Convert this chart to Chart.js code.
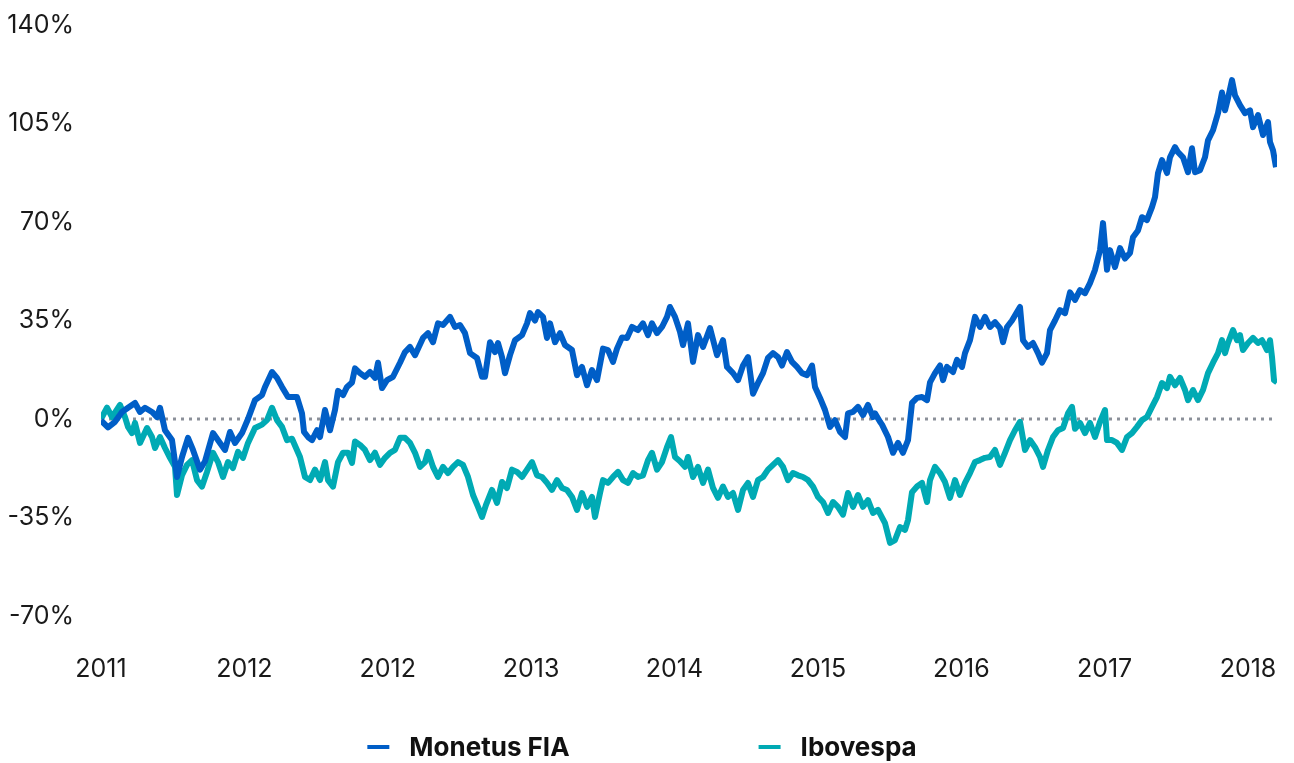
<!DOCTYPE html>
<html>
<head>
<meta charset="utf-8">
<script src="https://cdn.jsdelivr.net/npm/chart.js@4.4.1/dist/chart.umd.min.js"></script>
<style>
  html, body { margin: 0; padding: 0; background: #fff; }
  #wrap { width: 1294px; height: 763px; }
</style>
</head>
<body>
<div id="wrap"><canvas id="grafico"></canvas></div>
<script>
// eixo x: pregões (escala), ticks de ano
const anos = ["2011", "2012", "2012", "2013", "2014", "2015", "2016", "2017", "2018"];
const posAnos = [0, 143.4, 286.8, 430.1, 573.5, 716.9, 860.3, 1003.6, 1147];

// rentabilidade acumulada (%)
const diasMonetus = [0,7,14,21,27,34,39,44,51,56,59,64,71,76,81,87,92,99,104,112,119,124,129,134,141,147,154,161,164,171,176,181,187,196,201,203,207,211,216,219,224,229,234,237,242,246,251,254,259,264,269,274,277,281,286,292,299,304,309,314,317,322,327,332,337,342,349,354,359,364,369,376,381,384,389,394,397,401,404,409,414,421,426,429,434,437,442,446,449,454,459,464,471,476,481,486,491,496,502,507,512,516,521,526,531,537,542,547,551,556,561,566,569,574,579,582,587,592,597,602,609,616,622,626,632,637,642,647,652,657,662,667,672,677,681,686,691,696,701,706,711,714,719,724,729,734,739,744,747,752,757,762,767,772,774,779,781,787,792,797,802,807,811,816,821,826,829,834,839,842,846,852,856,861,864,869,874,879,884,889,894,899,902,906,911,916,919,922,927,932,937,941,946,949,954,959,964,969,974,979,984,989,994,999,1002,1006,1009,1014,1019,1024,1029,1032,1037,1041,1046,1051,1054,1057,1061,1066,1069,1074,1077,1082,1087,1091,1094,1099,1104,1107,1112,1117,1121,1124,1127,1131,1134,1139,1144,1149,1152,1157,1162,1167,1169,1172,1175];
const monetus = [-0.5,-3,-1,2.5,4,5.7,2.5,4,2.5,0.7,4,-4,-7.5,-20.6,-13.5,-6.7,-11,-18,-15,-5,-8.5,-11,-4.6,-8.5,-5,0,6.7,8.5,11.4,16.7,14.6,11.4,7.8,7.8,2,-4.6,-6.4,-7.5,-4,-6.4,3.2,-4,3.2,10,8.5,11.4,13,18,16.3,15,16.7,14.6,20,11,13.8,15,20,23.8,25.6,22.7,25,28.8,30.5,27.3,34,33.4,36.3,32.7,33.4,30.5,23.4,21.7,15,15,27.3,23.8,27,22,16.3,22.7,28,29.8,34,37.6,35,38,36.3,28.8,34,27.3,30.5,26.3,24.5,15.6,18.5,12,17.4,13.8,25,24.5,20.3,25,29,28.8,32.7,31.6,34,29.8,34,30.5,32.7,36.3,39.8,36.3,31,26.3,34,20.3,29.8,25.6,32.3,22.7,28,18.5,16.3,13.8,19,22,9,12.8,16.3,21.7,23.4,22,19,23.8,20.3,18.5,16.3,15.6,19,11.4,7.5,3.2,-2.8,-0.4,-4.6,-6.4,2,2.5,4.3,1.4,5,0.7,2,-1,-2,-6.4,-12,-8.5,-12,-7.5,5.7,7.5,7.8,6.7,13,16.3,19,13.8,18.5,16.7,21,18.5,23.4,28,36.3,32.7,36.3,32.7,34.4,32.3,27.3,32.7,35,38,39.8,28,25.6,27,23.4,20,23.4,31.6,35,38.7,37.6,45,42.3,45.8,44.7,48.3,53,60,69.6,53,60,54,60.7,57,59,64.6,67,71.7,70.7,75.3,78.8,87.4,92,87.4,93,96.6,94.8,93,87.7,96.2,87.7,88.4,93,99,102.6,108.7,116,109.7,114,120.4,115,111.5,108.7,109.7,103.7,108,100.9,105.5,98.4,95.5,89.5];

const diasIbov = [0,6,11,19,24,27,31,34,39,46,51,54,59,64,69,74,76,81,86,91,96,101,106,112,117,122,127,132,137,142,147,154,161,166,171,176,181,186,191,199,204,209,214,219,224,227,232,237,242,247,251,254,259,264,269,274,279,284,289,294,299,304,309,314,319,324,327,332,337,342,347,352,357,362,367,372,377,381,385,391,396,401,406,411,416,421,426,431,436,441,446,451,456,461,466,471,476,481,486,491,494,499,502,507,512,517,522,527,532,537,542,547,551,556,561,566,570,574,579,584,587,592,597,602,607,612,617,622,627,632,637,642,647,652,657,662,667,672,677,682,687,692,697,702,707,712,717,722,727,732,737,742,747,752,757,762,767,772,777,784,789,794,799,804,807,811,816,821,826,829,834,839,844,849,854,859,864,869,874,879,884,889,894,899,904,909,914,919,924,929,934,939,942,947,952,957,962,967,971,974,979,984,989,994,999,1004,1006,1011,1016,1021,1026,1031,1036,1041,1046,1051,1056,1061,1066,1069,1074,1079,1084,1087,1092,1097,1102,1107,1112,1117,1121,1124,1127,1132,1136,1139,1142,1147,1152,1157,1161,1166,1169,1171,1173,1176];
const ibovespa = [0,4,0.7,5,0.7,-2.8,-5,-1.4,-8.5,-3.2,-6.4,-10.3,-6.4,-10.3,-13.8,-17,-27,-20,-16.3,-14.6,-21.7,-24,-18.8,-12,-15.3,-20.6,-15.3,-17.4,-11.7,-13.8,-8.5,-3.2,-2,-0.4,4,-0.4,-2.8,-7.5,-7,-13.5,-20.6,-21.7,-18,-21.7,-15.3,-21.7,-24,-15.3,-12,-12,-15.6,-8,-9.2,-11,-14.6,-12,-16.3,-13.8,-12,-11,-6.7,-6.7,-8.5,-12,-17,-15.3,-11.7,-17,-20.6,-17,-19.2,-17,-15.3,-16.3,-20.6,-27,-31.2,-34.8,-30.5,-25.2,-29.8,-22.4,-24.5,-18,-18.8,-20.6,-18,-15.3,-20,-20.6,-22.7,-25.2,-21.7,-24.5,-25.2,-27.7,-32.3,-26.3,-31.2,-27.7,-34.8,-26.3,-21.7,-22.7,-20.6,-18.8,-21.7,-22.7,-19.2,-20.6,-20,-14.6,-12,-18,-15.3,-10,-6.4,-13.5,-15,-17,-13.5,-20.6,-17,-22.7,-18,-24.5,-28,-24,-27.7,-26.3,-32.3,-25.2,-22.7,-27.7,-21.7,-20.6,-18,-16.3,-14.6,-17,-21.7,-19.2,-20,-20.6,-21.7,-24,-27.7,-29.5,-33.4,-29.5,-31.2,-34,-26.3,-31.2,-27,-31.2,-28.8,-33.4,-32.3,-37,-44,-43,-38.4,-39.4,-35.9,-26,-24,-22.7,-29.5,-21.7,-17,-19.2,-22.4,-28,-21.7,-27,-22.7,-19.2,-15.3,-14.6,-13.8,-13.5,-11,-16.3,-12,-7.5,-4,-1,-11,-7.5,-10,-13.5,-17,-11,-6.4,-4,-3.2,2,4.3,-3.5,-1.4,-5,-1.4,-6.4,-1,3.2,-7.5,-7.5,-8.5,-11,-6.4,-5,-2.8,-0.4,0.7,4.3,7.8,12.8,11,15,12,14.6,10.3,6.7,10.3,6.7,10.3,16.3,20,23.4,28,23.4,27,31.6,28,29.8,24.5,27,28.8,27,28,24.5,28,22,13.8,13];

const fimLinhaZero = 1171;

function pontos(xs, ys) {
    return xs.map((x, i) => ({ x: x, y: ys[i] }));
}

const legendaManual = {
    id: "legendaManual",
    afterDraw(chart) {
        const ctx = chart.ctx;
        const itens = chart.data.datasets.filter(d => d.naLegenda);
        ctx.save();
        ctx.font = "bold 26px Inter";
        ctx.textBaseline = "middle";
        const larguras = itens.map(d => 42 + ctx.measureText(d.label).width);
        const vao = 189;
        const total = larguras.reduce((a, b) => a + b, 0) + vao * (itens.length - 1);
        let x = (chart.width - total) / 2 - 5;
        const y = 747;
        itens.forEach((d, i) => {
            ctx.fillStyle = d.borderColor;
            ctx.fillRect(x, y - 2, 22, 4);
            ctx.fillStyle = "#111";
            ctx.fillText(d.label, x + 42, y + 1);
            x += larguras[i] + vao;
        });
        ctx.restore();
    }
};

new Chart(document.getElementById("grafico"), {
    type: "line",
    data: {
        datasets: [
            {
                label: "Monetus FIA",
                data: pontos(diasMonetus, monetus),
                borderColor: "#005ec7",
                borderWidth: 6,
                borderJoinStyle: "round",
                pointRadius: 0,
                order: 1,
                naLegenda: true
            },
            {
                label: "Ibovespa",
                data: pontos(diasIbov, ibovespa),
                borderColor: "#00aab4",
                borderWidth: 6,
                borderJoinStyle: "round",
                pointRadius: 0,
                order: 2,
                naLegenda: true
            },
            {
                label: "zero",
                data: [{ x: 0, y: 0 }, { x: fimLinhaZero, y: 0 }],
                borderColor: "#8b9099",
                borderWidth: 3,
                borderDash: [3, 5],
                pointRadius: 0,
                order: 3
            }
        ]
    },
    options: {
        responsive: true,
        maintainAspectRatio: false,
        animation: false,
        devicePixelRatio: 1,
        layout: { padding: { top: 25, right: 17, bottom: 84, left: 0 } },
        plugins: {
            legend: { display: false },
            tooltip: { enabled: false }
        },
        scales: {
            x: {
                type: "linear",
                min: 0,
                max: 1176,
                grid: { display: false },
                border: { display: false },
                afterBuildTicks: scale => {
                    scale.ticks = posAnos.map(v => ({ value: v }));
                },
                afterFit: scale => {
                    scale.height = 63;
                    scale.paddingLeft = 0;
                    scale.paddingRight = 0;
                },
                ticks: {
                    autoSkip: false,
                    maxRotation: 0,
                    padding: 30,
                    color: "#1a1a1a",
                    font: { family: "Inter", size: 25 },
                    callback: (v, i) => anos[i]
                }
            },
            y: {
                min: -70,
                max: 140,
                grid: { display: false },
                border: { display: false },
                afterFit: scale => {
                    scale.width = 101;
                    scale.paddingTop = 0;
                    scale.paddingBottom = 0;
                },
                ticks: {
                    stepSize: 35,
                    padding: 19,
                    color: "#1a1a1a",
                    font: { family: "Inter", size: 25 },
                    callback: v => v + "%"
                }
            }
        }
    },
    plugins: [legendaManual]
});
</script>
</body>
</html>
